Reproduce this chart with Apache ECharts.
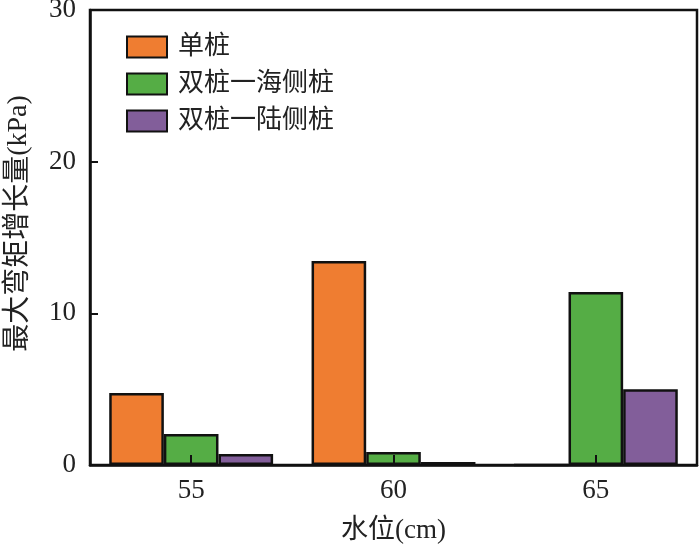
<!DOCTYPE html>
<html>
<head>
<meta charset="utf-8">
<script src="https://cdn.jsdelivr.net/npm/echarts@6/dist/echarts.min.js"></script>
<style>html,body{margin:0;padding:0;background:#fff}#c{width:700px;height:548px}</style>
</head>
<body>
<div id="c"></div>
<script>
// 水位
const categories = ['55', '60', '65'];
// 最大弯矩增长量 (kPa)
const singlePile = [4.75, 13.45, 0];
const doubleSea = [2.05, 0.86, 11.4];
const doubleLand = [0.73, 0.2, 5.0];
const yTicks = [0, 10, 20, 30];

const fontFam = '"Liberation Serif", "Noto Sans CJK SC", serif';
const chart = echarts.init(document.getElementById('c'));

function bar(name, data, color) {
    return {
        name: name,
        type: 'bar',
        data: data,
        barGap: '0%',
        barCategoryGap: '19%',
        itemStyle: {color: color, borderColor: '#111', borderWidth: 2.5}
    };
}

chart.setOption({
    animation: false,
    grid: {
        left: 90, right: 3, top: 10, bottom: 83,
        outerBoundsMode: 'none',
        show: true, borderColor: '#111', borderWidth: 2.5
    },
    legend: {
        left: 121, top: 28, orient: 'vertical', itemGap: 9,
        itemWidth: 40, itemHeight: 21, icon: 'rect',
        textStyle: {fontFamily: fontFam, fontSize: 26, lineHeight: 28, color: '#222', padding: [0, 0, 0, 6]},
        data: ['单桩', '双桩一海侧桩', '双桩一陆侧桩']
    },
    xAxis: {
        type: 'category',
        data: categories,
        zlevel: 1,
        name: '水位(cm)',
        nameLocation: 'middle',
        nameGap: 52,
        nameTextStyle: {fontFamily: fontFam, fontSize: 27, color: '#222'},
        axisLine: {lineStyle: {color: '#111', width: 2.5}},
        axisTick: {show: true, inside: true, alignWithLabel: true, length: 10, lineStyle: {color: '#111', width: 2}},
        axisLabel: {fontFamily: fontFam, fontSize: 27, color: '#222', margin: 12}
    },
    yAxis: {
        type: 'value',
        min: 0, max: 30, interval: 10,
        z: 5,
        name: '最大弯矩增长量(kPa)',
        nameLocation: 'middle',
        nameGap: 57,
        nameTextStyle: {fontFamily: fontFam, fontSize: 28, color: '#222', padding: [0, 0, 0, 28]},
        axisLine: {show: true, lineStyle: {color: '#111', width: 2.5}},
        axisTick: {show: true, inside: true, length: 8, lineStyle: {color: '#111', width: 2}},
        splitLine: {show: false},
        axisLabel: {
            fontFamily: fontFam, fontSize: 27, color: '#222', margin: 14,
            formatter: v => yTicks.includes(v) ? String(v) : ''
        }
    },
    series: [
        bar('单桩', singlePile, '#ef7d31'),
        bar('双桩一海侧桩', doubleSea, '#55ad45'),
        bar('双桩一陆侧桩', doubleLand, '#825e9a')
    ]
});
</script>
</body>
</html>
